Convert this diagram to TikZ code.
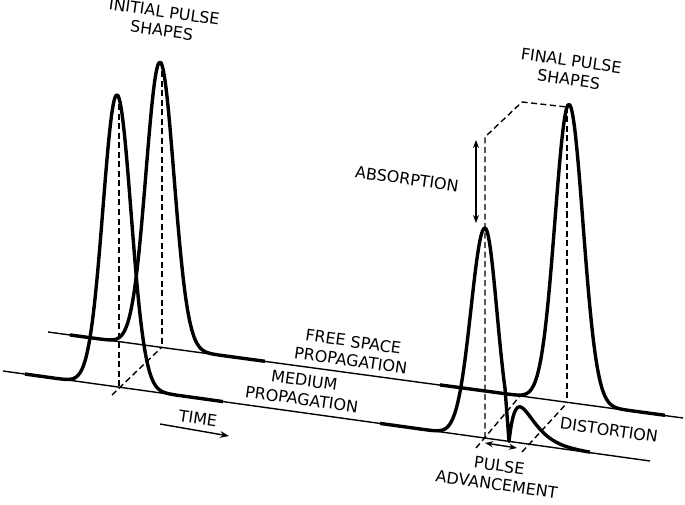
\documentclass[tikz,border=0pt]{standalone}
\usepackage{fontspec}
\setmainfont{DejaVu Sans}
\usetikzlibrary{arrows.meta}
\begin{document}
\begin{tikzpicture}[x=1pt,y=-1pt,
  thinl/.style={line width=1.4pt},
  pulse/.style={line width=3.4pt,line join=round},
  guide/.style={line width=1.4pt,dash pattern=on 6pt off 3.5pt},
  lab/.style={font=\fontsize{16}{19}\selectfont,align=center,rotate=-8,inner sep=0pt},
  dbl/.style={line width=1.4pt,{Stealth[length=8pt]}-{Stealth[length=8pt]}}]
\useasboundingbox (0,0) rectangle (685,505);
% base lines
\coordinate (fa) at (3,371); \coordinate (fb) at (650,461);
\coordinate (ba) at (48,332); \coordinate (bb) at (683,418);
\draw[thinl] (fa) -- (fb);
\draw[thinl] (ba) -- (bb);
% initial pulses
\draw[pulse] plot[domain=25:223,samples=120,smooth] (\x,{371+0.139*(\x-3)-292*exp(-0.5*((\x-117)/14)^2)});
\draw[pulse] plot[domain=70:265,samples=120,smooth] (\x,{332+0.135*(\x-48)-285*exp(-0.5*((\x-160)/14)^2)});
% final pulses
\draw[pulse] plot[domain=380:485,samples=80,smooth] (\x,{371+0.139*(\x-3)-210*exp(-0.5*((\x-485)/14)^2)})
  -- plot[domain=485:505,samples=20,smooth] (\x,{371+0.139*(\x-3)-210*exp(-0.5*((\x-485)/12)^2)})
  -- (509,{371+0.139*506})
  -- plot[domain=509:590,samples=60,smooth] (\x,{371+0.139*(\x-3)-36*((\x-509)/11)*exp(1-(\x-509)/11)});
\draw[pulse] plot[domain=440:665,samples=140,smooth] (\x,{332+0.135*(\x-48)-298*exp(-0.5*((\x-569)/14)^2)});
% guides left
\coordinate (l1t) at (119,95); \coordinate (l1b) at (119,387);
\coordinate (l2t) at (162,62); \coordinate (l2b) at (162,347);
\draw[guide] (l1t) -- (l1b);
\draw[guide] (l2t) -- (l2b);
\coordinate (d1) at (112,395);
\draw[guide] (d1) -- (l2b);
% guides right
\coordinate (r1t) at (485,137); \coordinate (r1b) at (485,438);
\coordinate (r2t) at (567,107); \coordinate (r2b) at (567,403);
\coordinate (rk) at (522,102);
\draw[guide] (r1b) -- (r1t) -- (rk) -- (r2t);
\draw[guide] (r2t) -- (r2b);
\coordinate (d2a) at (476,448); \coordinate (d2b) at (520,396);
\draw[guide] (d2a) -- (d2b);
\coordinate (d3a) at (522,452); \draw[guide] (d3a) -- (r2b);
% arrows
\coordinate (aa) at (476,140); \coordinate (ab) at (476,223);
\draw[dbl] (aa) -- (ab);
\coordinate (pa) at (485,443); \coordinate (pb) at (517,448);
\draw[dbl] (pa) -- (pb);
\coordinate (ta) at (160,424); \coordinate (tb) at (229,436);
\draw[line width=1.4pt,-{Stealth[length=9pt]}] (ta) -- (tb);
% labels
\node[lab] (ini) at (163,21) {INITIAL PULSE\\SHAPES};
\node[lab] (fin) at (570,70) {FINAL PULSE\\SHAPES};
\node[lab] (abs) at (407,179) {ABSORPTION};
\node[lab] (fsp) at (352,351) {FREE SPACE\\PROPAGATION};
\node[lab] (med) at (303,390) {MEDIUM\\PROPAGATION};
\node[lab] (tim) at (198,418) {TIME};
\node[lab] (dis) at (609,430) {DISTORTION};
\node[lab] (adv) at (498,475) {PULSE\\ADVANCEMENT};
\end{tikzpicture}
\end{document}
